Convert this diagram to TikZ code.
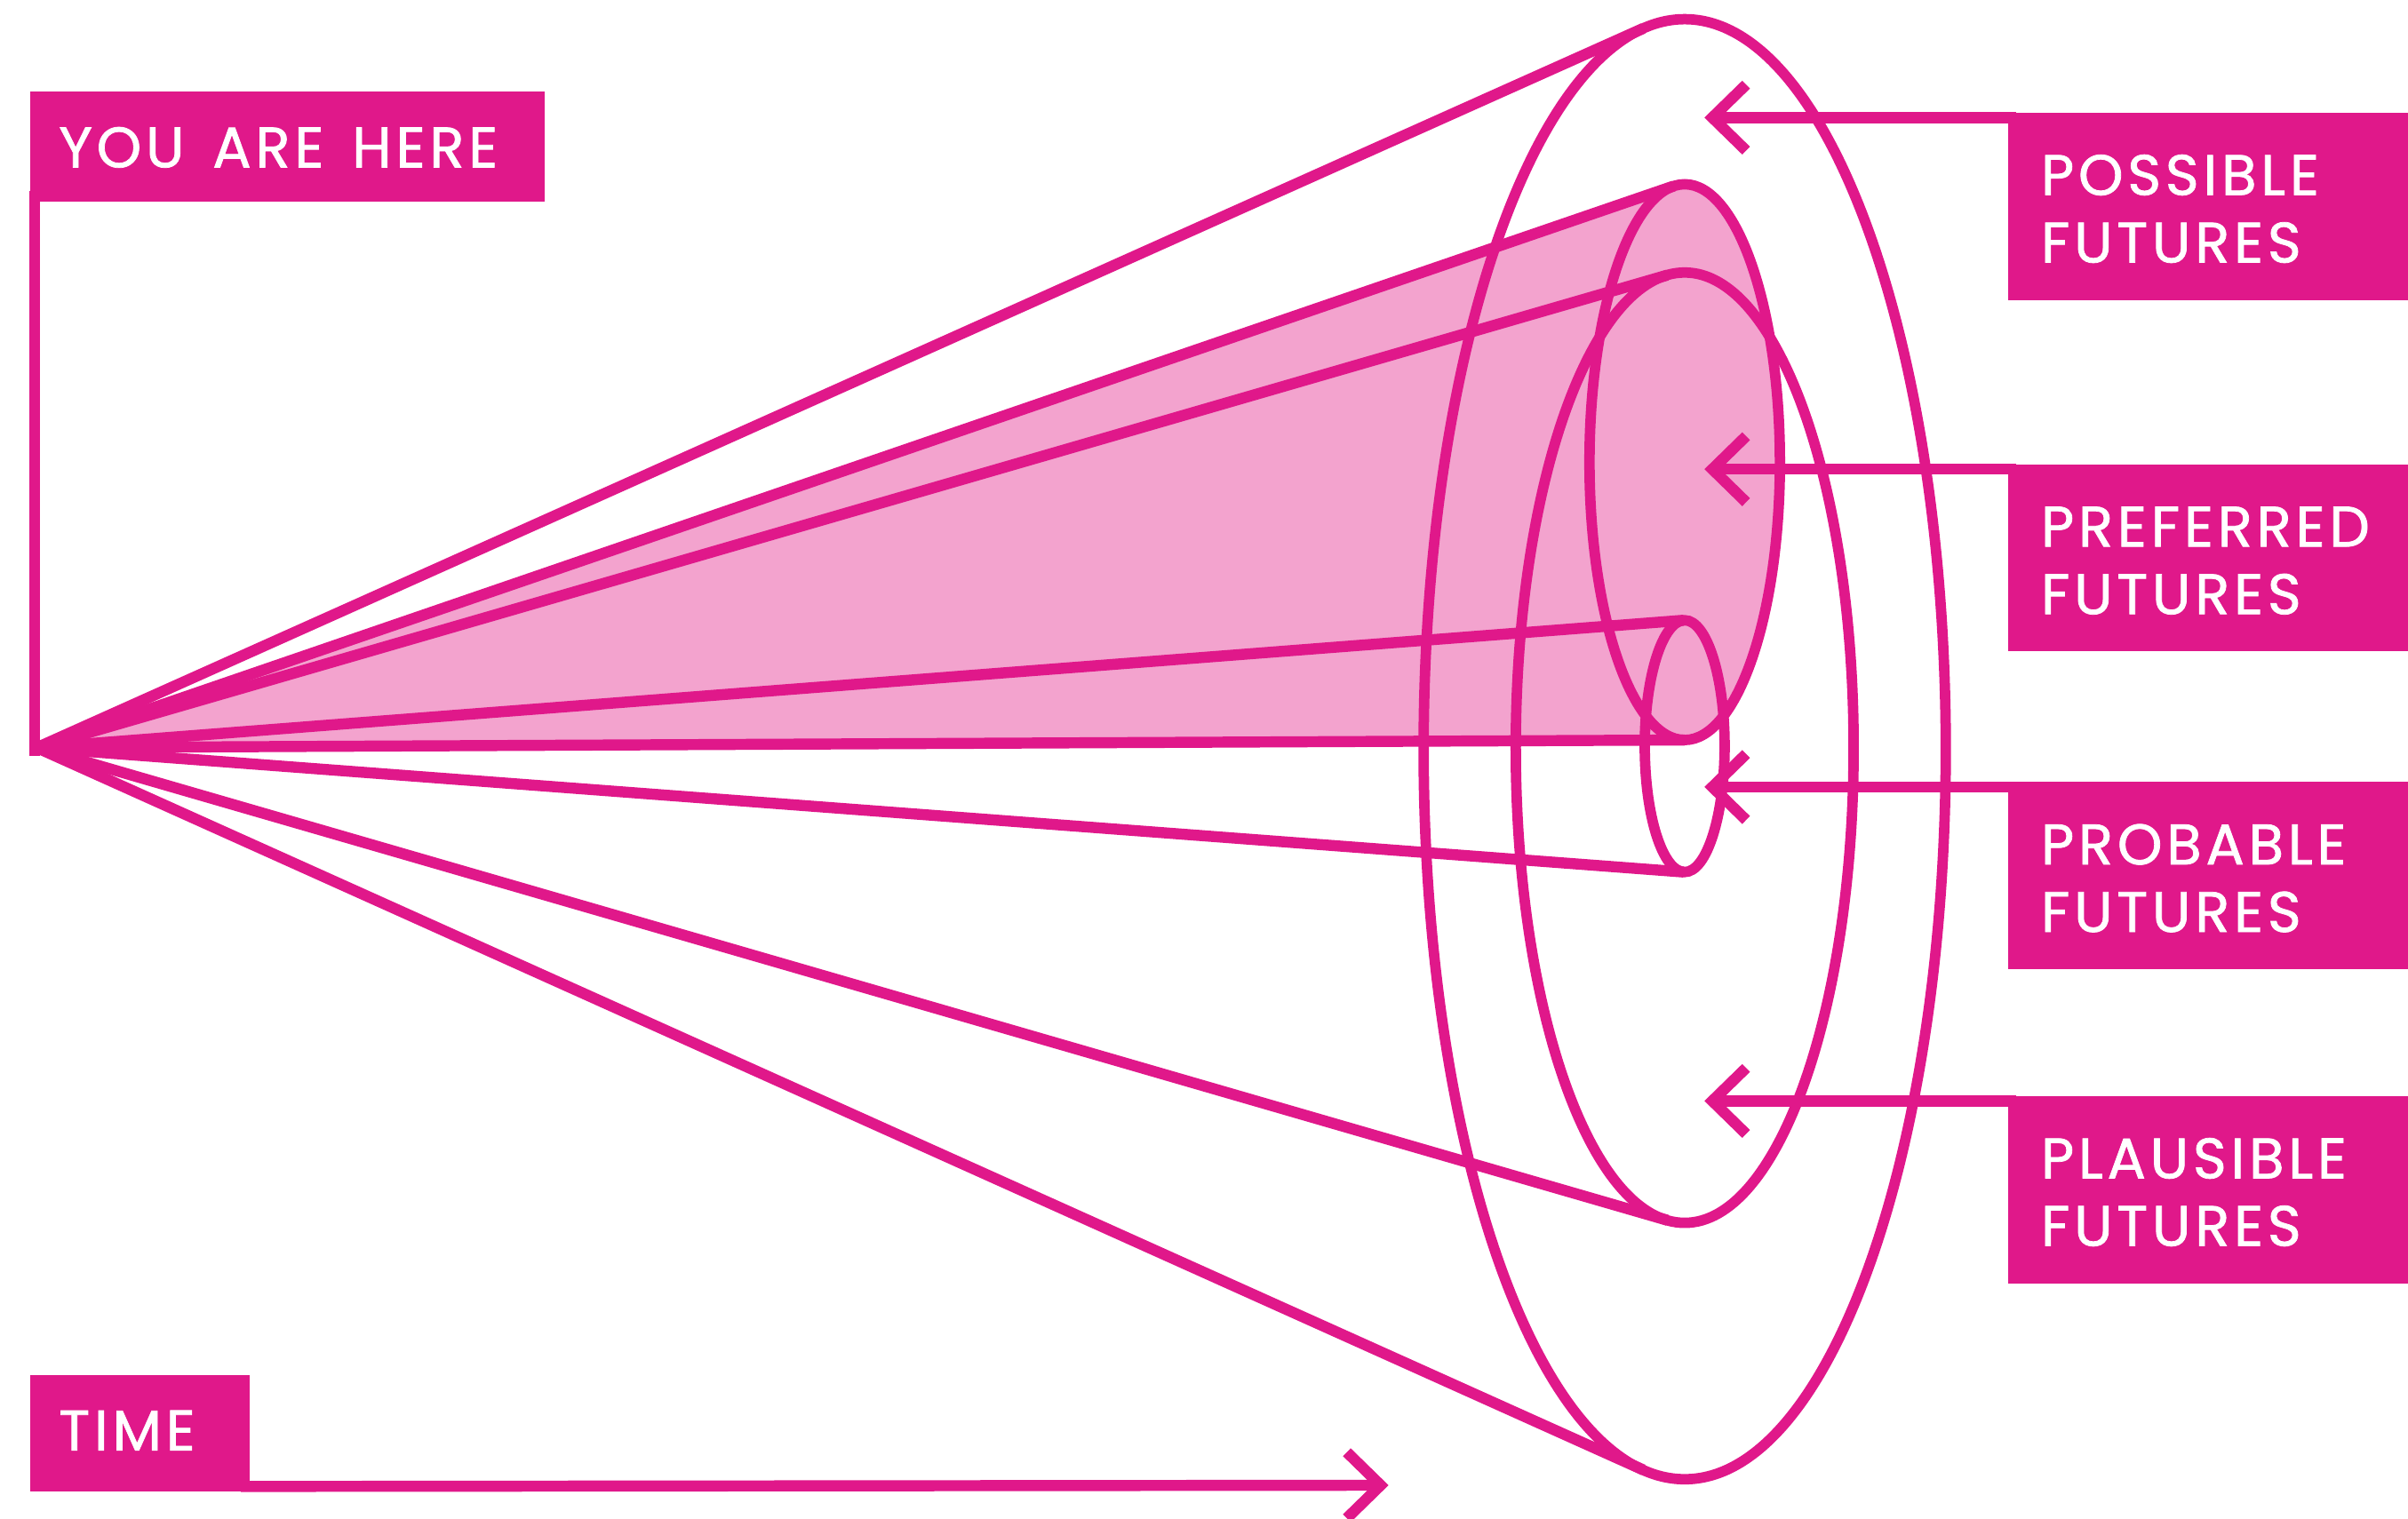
\documentclass[tikz,border=0pt]{standalone}
\usepackage{fontspec}
\setmainfont{Poppins}[LetterSpace=7.5,WordSpace=1.45,FakeBold=1.2]
\usetikzlibrary{calc}
\definecolor{mag}{RGB}{224,24,138}
\definecolor{pinkfill}{RGB}{243,163,206}
\begin{document}
\begin{tikzpicture}[x=0.5pt,y=-0.5pt,
  cone/.style={draw=mag,line width=3.6pt,line join=round},
  ell/.style={draw=mag,line width=3.4pt},
  conn/.style={draw=mag,line width=3.6pt},
  tiphead/.style={draw=mag,line width=3.6pt,line join=miter},
  labelbox/.style={fill=mag,inner sep=0pt,anchor=north west,minimum width=#1,minimum height=61pt},
  labeltext/.style={text=white,inner sep=0pt,anchor=base west,align=left,
    font=\fontsize{18.6}{22}\selectfont}
]
\useasboundingbox (0,0) rectangle (1568,989);

% geometry
\coordinate (apex) at (24,487);
\coordinate (posC) at (1097,488);
\coordinate (plaC) at (1097,487);
\coordinate (preC) at (1097,301);
\coordinate (proC) at (1097,486);
\coordinate (posT) at (1070,18.5);   \coordinate (posB) at (1070,957.4);
\coordinate (plaT) at (1085.7,179.2); \coordinate (plaB) at (1085.7,794.8);
\coordinate (preT) at (1089.8,121.2); \coordinate (preB) at (1097,482);
\coordinate (proT) at (1096.4,404);   \coordinate (proB) at (1096.4,568);

% preferred cone fill
\fill[pinkfill] (apex) -- (preT) -- (preB) -- cycle;
\fill[pinkfill] (preC) ellipse [x radius=31pt, y radius=90.5pt];

% ellipses
\draw[ell] (posC) ellipse [x radius=85pt, y radius=237.75pt];
\draw[ell] (plaC) ellipse [x radius=55pt, y radius=154.75pt];
\draw[ell] (preC) ellipse [x radius=31pt, y radius=90.5pt];
\draw[ell] (proC) ellipse [x radius=13pt, y radius=41pt];

% cone lines
\draw[cone] (posT) -- (apex) -- (posB);
\draw[cone] (plaT) -- (apex) -- (plaB);
\draw[cone] (preT) -- (apex) -- (preB);
\draw[cone] (proT) -- (apex) -- (proB);

% YOU ARE HERE
\node[labelbox=167.5pt,minimum height=36pt] (here) at (19,59) {};
\node[labeltext] (heretxt) at (38,109) {YOU ARE HERE};
\coordinate (hereFoot) at (22.6,489);
\draw[conn,line cap=rect] ($(here.south west)+(3.6,-4)$) -- (hereFoot);

% right label boxes
\node[labelbox=135pt] (possbox) at (1307,73) {};
\node[labelbox=135pt] (prefbox) at (1307,302) {};
\node[labelbox=135pt] (probbox) at (1307,509) {};
\node[labelbox=135pt] (plaubox) at (1307,713.5) {};

\node[labeltext] (posstxt) at (1328.6,171) {POSSIBLE\\FUTURES};
\node[labeltext] (preftxt) at (1328.6,400) {PREFERRED\\FUTURES};
\node[labeltext] (probtxt) at (1328.6,607) {PROBABLE\\FUTURES};
\node[labeltext] (plautxt) at (1328.6,811.5) {PLAUSIBLE\\FUTURES};

% arrows to ellipses
\coordinate (tipPos) at (1115,76.6);
\coordinate (tipPre) at (1115,305.6);
\coordinate (tipPro) at (1115,512.6);
\coordinate (tipPla) at (1115,717.1);
\draw[conn] ($(possbox.north west)+(6,3.6)$) -- (tipPos);
\draw[conn] ($(prefbox.north west)+(6,3.6)$) -- (tipPre);
\draw[conn] ($(probbox.north west)+(6,3.6)$) -- (tipPro);
\draw[conn] ($(plaubox.north west)+(6,3.6)$) -- (tipPla);
\draw[tiphead] ($(tipPos)+(22,-21.5)$) -- (tipPos) -- ($(tipPos)+(22,21.5)$);
\draw[tiphead] ($(tipPre)+(22,-21.5)$) -- (tipPre) -- ($(tipPre)+(22,21.5)$);
\draw[tiphead] ($(tipPro)+(22,-21.5)$) -- (tipPro) -- ($(tipPro)+(22,21.5)$);
\draw[tiphead] ($(tipPla)+(22,-21.5)$) -- (tipPla) -- ($(tipPla)+(22,21.5)$);

% TIME
\node[labelbox=71.25pt,minimum height=37.75pt] (timebox) at (19.5,895.5) {};
\node[labeltext] (timetxt) at (38,944.7) {TIME};
\coordinate (tipTime) at (899,967.4);
\draw[conn] ($(timebox.south east)+(-6,-3.6)$) -- (tipTime);
\draw[tiphead] ($(tipTime)+(-22,-21.5)$) -- (tipTime) -- ($(tipTime)+(-22,21.5)$);
\end{tikzpicture}
\end{document}
